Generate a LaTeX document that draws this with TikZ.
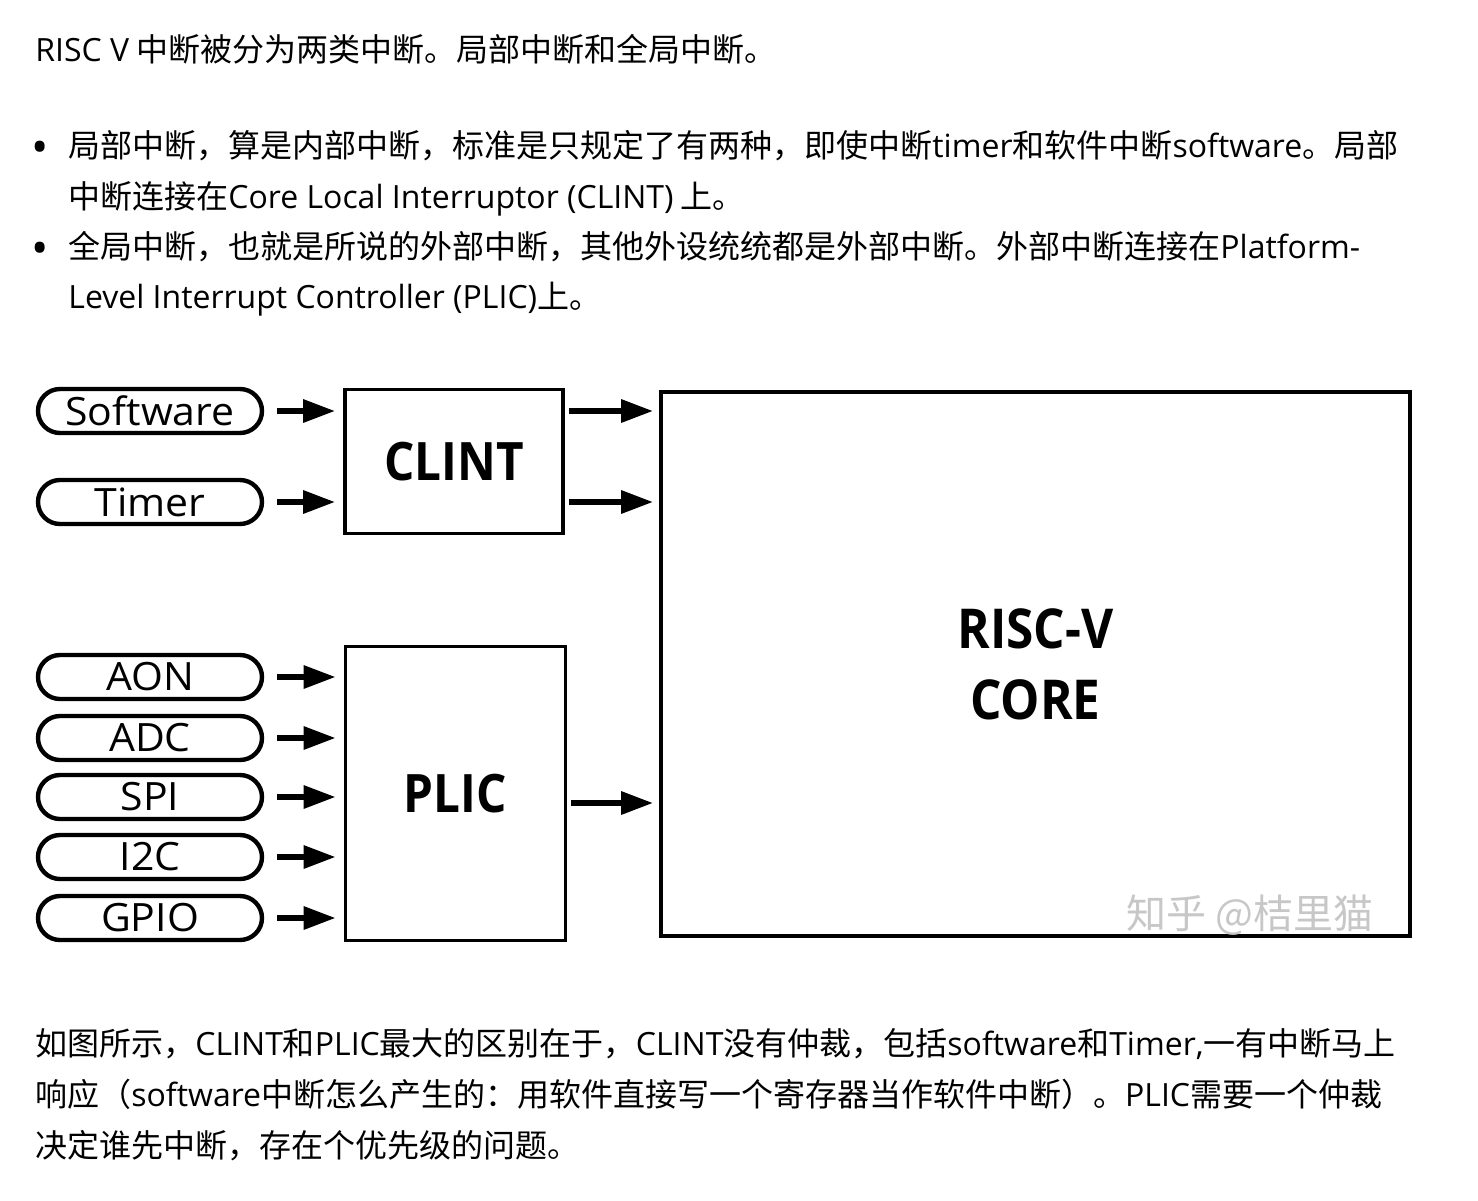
\documentclass[tikz,border=0pt]{standalone}
\usepackage{fontspec}
\usetikzlibrary{arrows.meta}

\newfontfamily\cnfont{Noto Sans CJK SC}
\newfontfamily\enfont{Open Sans}
\newfontfamily\pillfont[FakeStretch=1.05]{Open Sans}
\newfontfamily\blockfont[FakeStretch=0.9]{Open Sans}
\newcommand{\latn}[1]{{\enfont #1}}

\tikzset{
  txt/.style={anchor=base west, inner sep=0pt, font=\cnfont\fontsize{16pt}{19pt}\selectfont},
  dot/.style={anchor=base, inner sep=0pt, font=\enfont\fontsize{23pt}{23pt}\selectfont},
  pill/.style={draw, line width=2.2pt, rounded corners=11pt, minimum width=112pt,
    minimum height=22pt, inner sep=0pt, font=\pillfont\fontsize{19.5pt}{20pt}\selectfont},
  blockbox/.style={draw, line width=1.8pt, inner sep=0pt,
    font=\blockfont\bfseries\fontsize{26.5pt}{35.5pt}\selectfont},
  sig/.style={line width=3pt, -{Triangle[length=16pt,width=11pt]}},
}

\begin{document}
\begin{tikzpicture}[x=0.5pt, y=-0.5pt]
    % Page area
    \fill[white] (0,0) rectangle (1478,1200);
    \useasboundingbox (0,0) rectangle (1478,1200);

    % Text above the figure
    \node[txt] (t1) at (35,61) {\latn{RISC V} 中断被分为两类中断。局部中断和全局中断。};
    \node[dot] (b1) at (40,163.5) {•};
    \node[txt] (l1) at (68,157) {局部中断，算是内部中断，标准是只规定了有两种，即使中断\latn{timer}和软件中断\latn{software}。局部};
    \node[txt] (l2) at (68,208) {中断连接在\latn{Core Local Interruptor (CLINT)} 上。};
    \node[dot] (b2) at (40,264.5) {•};
    \node[txt] (l3) at (68,258) {全局中断，也就是所说的外部中断，其他外设统统都是外部中断。外部中断连接在\latn{Platform-}};
    \node[txt] (l4) at (68,308) {\latn{Level Interrupt Controller (PLIC)}上。};

    % Interrupt sources
    \node[pill] (sw) at (150,411) {Software};
    \node[pill] (tm) at (150,502) {Timer};
    \foreach \name/\y in {AON/677, ADC/738, SPI/797, I2C/857, GPIO/918} {
        \node[pill] (\name) at (150,\y) {\name}; % external sources
    }

    % Controllers and core
    \node[blockbox, minimum width=109pt, minimum height=72pt] (clint) at (454,461.5) {CLINT};
    \node[blockbox, minimum width=110pt, minimum height=147pt] (plic) at (455.5,793.5) {PLIC};
    \node[blockbox, minimum width=374.5pt, minimum height=272pt, align=center,
      font=\blockfont\bfseries\fontsize{27.5pt}{35.5pt}\selectfont] (core) at (1035.5,664) {RISC-V\\CORE};

    % Arrows into the controllers
    \foreach \src in {sw, tm} {
        \draw[sig, shorten <=6.5pt, shorten >=4pt] (\src.east) -- (\src -| clint.west);
    }
    \foreach \src in {AON, ADC, SPI, I2C, GPIO} {
        \draw[sig, shorten <=6.5pt, shorten >=4pt] (\src.east) -- (\src -| plic.west);
    }

    % Arrows into the core
    \foreach \src in {sw, tm} {
        \draw[sig, shorten <=2pt, shorten >=3pt] (\src -| clint.east) -- (\src -| core.west);
    }
    \draw[sig, shorten <=2pt, shorten >=3pt] ([yshift=-4.75pt]plic.east) -- ([yshift=-4.75pt]plic.east -| core.west);

    % Watermark
    \node[font=\cnfont\fontsize{20pt}{21pt}\selectfont, text=black!22, inner sep=0pt] (mark) at (1250,915) {知乎 @桔里猫};

    % Text below the figure
    \node[txt] (p1) at (35,1055) {如图所示，\latn{CLINT}和\latn{PLIC}最大的区别在于，\latn{CLINT}没有仲裁，包括\latn{software}和\latn{Timer,}一有中断马上};
    \node[txt] (p2) at (35,1106) {响应（\latn{software}中断怎么产生的：用软件直接写一个寄存器当作软件中断）。\latn{PLIC}需要一个仲裁};
    \node[txt] (p3) at (35,1157) {决定谁先中断，存在个优先级的问题。};
\end{tikzpicture}
\end{document}
